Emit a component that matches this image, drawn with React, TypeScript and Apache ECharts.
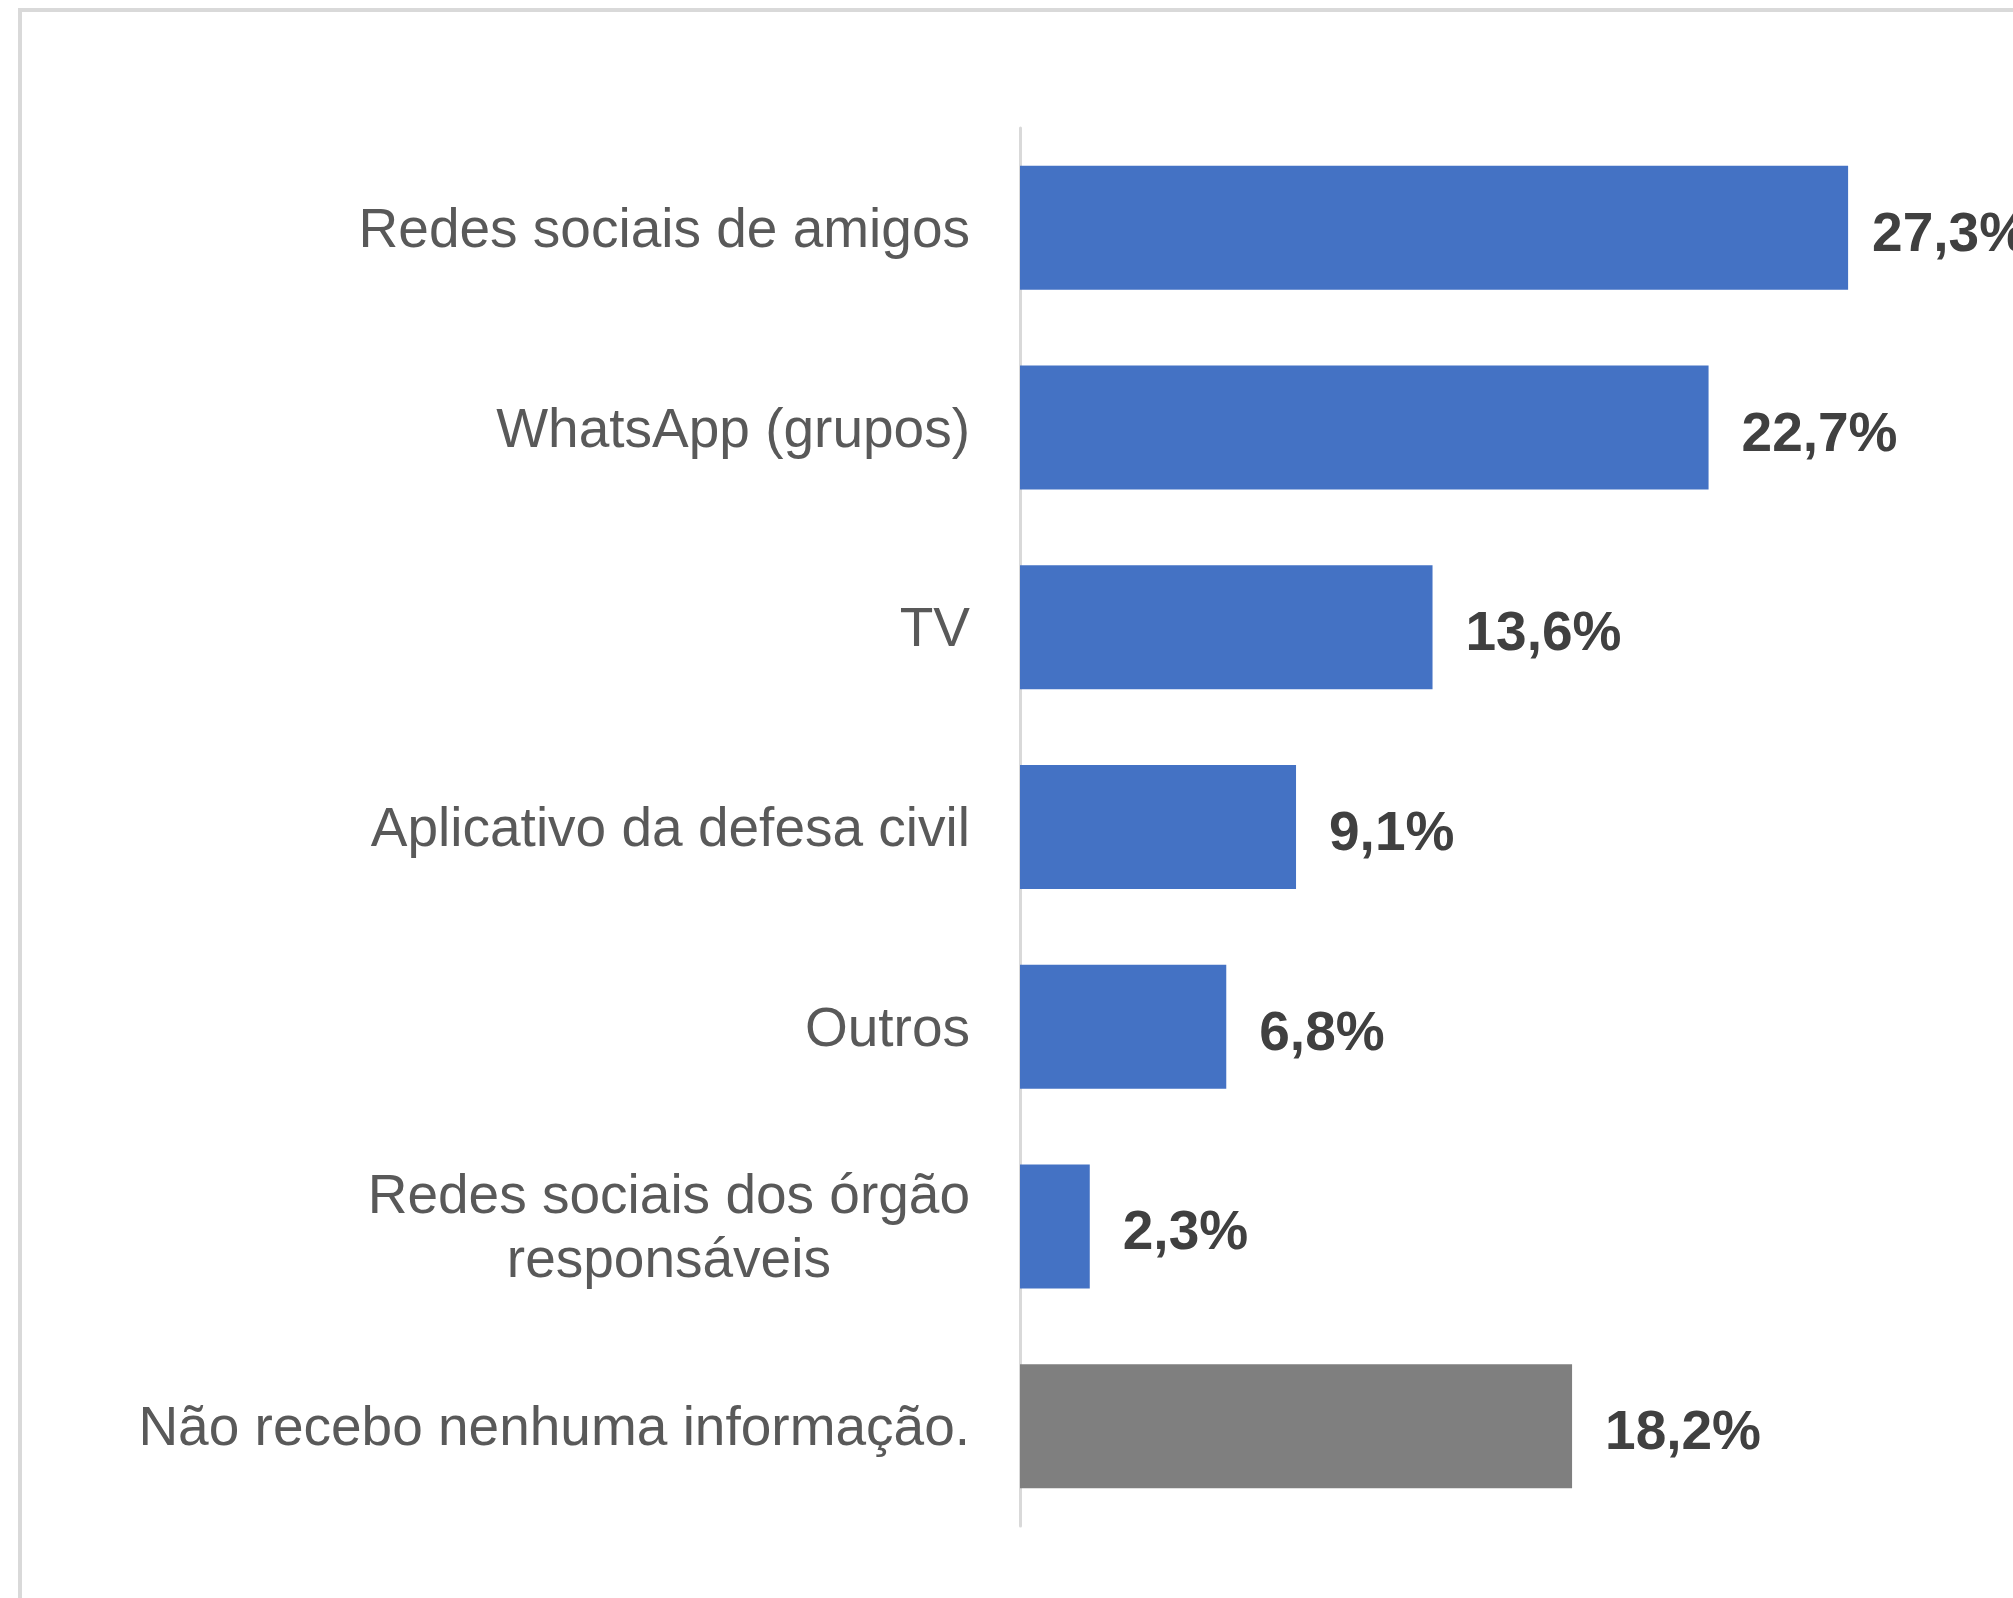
import React, { useEffect, useRef } from "react";
import * as echarts from "echarts";

const categories = [
  "Redes sociais de amigos",
  "WhatsApp (grupos)",
  "TV",
  "Aplicativo da defesa civil",
  "Outros",
  "Redes sociais dos órgão\nresponsáveis",
  "Não recebo nenhuma informação.",
];
const values = [27.3, 22.7, 13.6, 9.1, 6.8, 2.3, 18.2];
const barColors = ["#4472C4", "#4472C4", "#4472C4", "#4472C4", "#4472C4", "#4472C4", "#7F7F7F"];
const labelDistances = [24, 33, 33, 33, 33, 33, 33];

const FONT = "'Liberation Sans', Arial, sans-serif";

export default function App() {
  const ref = useRef<HTMLDivElement>(null);
  useEffect(() => {
    if (!ref.current) return;
    const chart = echarts.init(ref.current, null, { renderer: "svg" });
    chart.setOption({
      animation: false,
      backgroundColor: "#ffffff",
      grid: { left: 1020, right: 83, top: 128, bottom: 72, containLabel: false },
      xAxis: {
        type: "value",
        min: 0,
        max: 30,
        show: false,
      },
      yAxis: {
        type: "category",
        inverse: true,
        data: categories,
        axisLine: { show: true, lineStyle: { color: "#D9D9D9", width: 3 } },
        axisTick: { show: false },
        splitLine: { show: false },
        axisLabel: {
          margin: 50,
          fontSize: 55,
          fontFamily: FONT,
          color: "#595959",
          lineHeight: 64,
          formatter: (v: string) =>
            v.includes("\n")
              ? v
                  .split("\n")
                  .map((l) => `{c|${l}}`)
                  .join("\n")
              : v,
          rich: {
            c: {
              align: "center",
              fontSize: 55,
              fontFamily: FONT,
              color: "#595959",
              lineHeight: 64,
            },
          },
        },
      },
      graphic: [
        {
          type: "line",
          shape: { x1: 18, y1: 10, x2: 2013, y2: 10 },
          style: { stroke: "#D9D9D9", lineWidth: 4 },
          silent: true,
        },
        {
          type: "line",
          shape: { x1: 20, y1: 10, x2: 20, y2: 1598 },
          style: { stroke: "#D9D9D9", lineWidth: 4 },
          silent: true,
        },
      ],
      series: [
        {
          type: "bar",
          barWidth: 124,
          data: values.map((v, i) => ({
            value: v,
            itemStyle: { color: barColors[i] },
            label: { distance: labelDistances[i] },
          })),
          label: {
            show: true,
            position: "right",
            distance: 33,
            offset: [0, 4],
            fontSize: 55,
            fontWeight: "bold",
            fontFamily: FONT,
            color: "#404040",
            formatter: (p: any) => p.value.toFixed(1).replace(".", ",") + "%",
          },
        },
      ],
    });
    return () => chart.dispose();
  }, []);
  return (
    <div
      ref={ref}
      style={{ position: "fixed", left: 0, top: 0, width: "2013px", height: "1598px" }}
    />
  );
}
